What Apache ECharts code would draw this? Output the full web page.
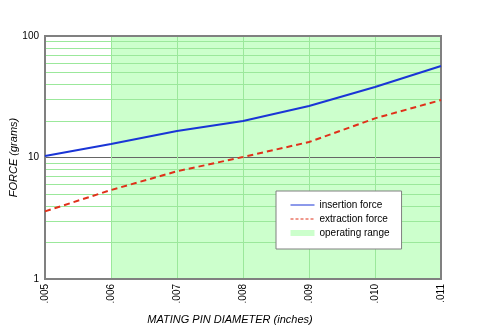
<!DOCTYPE html>
<html><head><meta charset="utf-8">
<script src="https://cdn.jsdelivr.net/npm/echarts@6/dist/echarts.min.js"></script>
<style>html,body{margin:0;padding:0;background:#fff}#c{width:489px;height:325px}</style>
</head><body><div id="c"></div>
<script>
var pinDiameter = ['.005', '.006', '.007', '.008', '.009', '.010', '.011'];
var insertionForce = [10.3, 12.9, 16.5, 20.0, 26.5, 38.0, 56.6];
var extractionForce = [3.6, 5.4, 7.7, 10.1, 13.4, 21.0, 29.7];
var operatingRange = ['.006', '.011'];
var minorGridValues = [2, 3, 4, 5, 6, 7, 8, 9, 20, 30, 40, 50, 60, 70, 80, 90];

var gridGreen = '#9be89b';
var chart = echarts.init(document.getElementById('c'), null, {renderer: 'canvas'});
chart.setOption({
  animation: false,
  textStyle: {fontFamily: 'Liberation Sans, Arial, sans-serif'},
  grid: {left: 45, right: 48, top: 36, bottom: 46, show: true, borderColor: '#808080', borderWidth: 2,
    backgroundColor: 'transparent', containLabel: false, outerBoundsMode: 'none', z: 2},
  legend: {
    orient: 'vertical', left: 276, top: 191, z: 10,
    backgroundColor: '#fff', borderColor: '#808080', borderWidth: 1, borderRadius: 0,
    padding: [9, 12, 11, 14], itemGap: 4, itemWidth: 24, itemHeight: 6,
    textStyle: {fontSize: 10, color: '#000'},
    data: [
      {name: 'insertion force', itemStyle: {opacity: 0}, lineStyle: {width: 1}},
      {name: 'extraction force', itemStyle: {opacity: 0}, lineStyle: {width: 1, type: [3, 2]}},
      {name: 'operating range', icon: 'rect', itemStyle: {color: '#ccffcc'}}
    ],
    selectedMode: false
  },
  xAxis: {
    type: 'category', data: pinDiameter, boundaryGap: false, z: 1,
    name: 'MATING PIN DIAMETER (inches)', nameLocation: 'middle', nameGap: 35,
    nameTextStyle: {fontStyle: 'italic', fontSize: 11, color: '#000', padding: [0, 26, 0, 0]},
    axisLine: {lineStyle: {color: '#808080', width: 2}},
    axisTick: {show: false},
    axisLabel: {rotate: 90, fontSize: 10, color: '#000', margin: 5},
    splitLine: {show: true, lineStyle: {color: gridGreen, width: 1}}
  },
  yAxis: {
    type: 'log', logBase: 10, min: 1, max: 100, z: 1,
    name: 'FORCE (grams)', nameLocation: 'middle', nameGap: 26, nameMoveOverlap: false,
    nameTextStyle: {fontStyle: 'italic', fontSize: 11, color: '#000'},
    axisLine: {show: true, lineStyle: {color: '#808080', width: 2}},
    axisTick: {show: false},
    axisLabel: {fontSize: 10, color: '#000', margin: 6},
    splitLine: {show: true, lineStyle: {color: '#666', width: 1}}
  },
  series: [
    {
      name: 'operating range', type: 'line', data: [], z: 0, symbol: 'none',
      itemStyle: {color: '#ccffcc'}, lineStyle: {color: '#ccffcc'},
      markArea: {silent: true, z: -1, itemStyle: {color: '#ccffcc'},
        data: [[{xAxis: operatingRange[0]}, {xAxis: operatingRange[1]}]]}
    },
    {
      name: 'minorGrid', type: 'line', data: [], z: 0, symbol: 'none',
      markLine: {silent: true, z: 0.5, symbol: 'none', label: {show: false},
        lineStyle: {color: gridGreen, type: 'solid', width: 1},
        data: minorGridValues.map(function (v) { return {yAxis: v}; })}
    },
    {
      name: 'insertion force', type: 'line', data: insertionForce, symbol: 'none', z: 3,
      itemStyle: {color: '#1a35d6'}, lineStyle: {color: '#1a35d6', width: 2}
    },
    {
      name: 'extraction force', type: 'line', data: extractionForce, symbol: 'none', z: 3,
      itemStyle: {color: '#e0301a'}, lineStyle: {color: '#e0301a', width: 2, type: [6, 4]}
    }
  ]
});
</script></body></html>
